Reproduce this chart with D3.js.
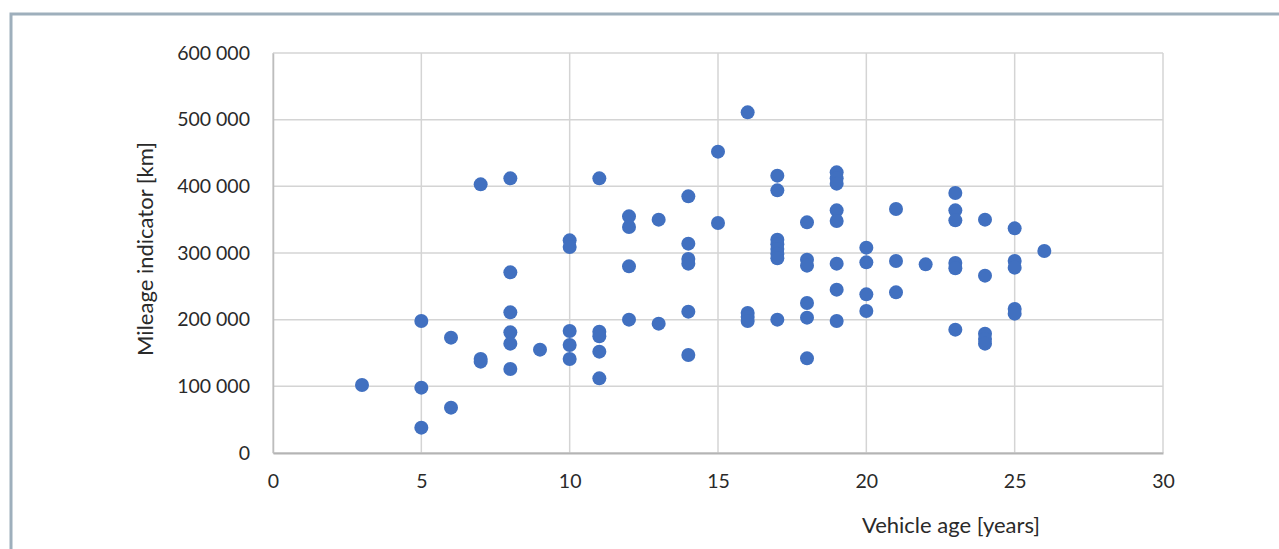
<!DOCTYPE html>
<html>
<head>
<meta charset="utf-8">
<title>Mileage vs vehicle age</title>
<script src="https://d3js.org/d3.v7.min.js"></script>
<style>
body { margin: 0; background: #fff; }
text { font-family: Lato, "Open Sans", sans-serif; fill: #2a2a2a; }
</style>
</head>
<body>
<script>
// vehicle age [years] and odometer reading [km], one entry per car
var ages = [
  3,
  5, 5, 5,
  6, 6,
  7, 7, 7,
  8, 8, 8, 8, 8, 8,
  9,
  10, 10, 10, 10, 10,
  11, 11, 11, 11, 11,
  12, 12, 12, 12,
  13, 13,
  14, 14, 14, 14, 14, 14,
  15, 15,
  16, 16, 16, 16,
  17, 17, 17, 17, 17, 17, 17, 17,
  18, 18, 18, 18, 18, 18,
  19, 19, 19, 19, 19, 19, 19, 19,
  20, 20, 20, 20,
  21, 21, 21,
  22,
  23, 23, 23, 23, 23, 23,
  24, 24, 24, 24, 24,
  25, 25, 25, 25, 25,
  26
];
var mileage = [
  102000,
  198000, 98000, 38000,
  173000, 68000,
  403000, 141000, 137000,
  412000, 271000, 211000, 181000, 164000, 126000,
  155000,
  319000, 309000, 183000, 162000, 141000,
  412000, 182000, 175000, 152000, 112000,
  355000, 339000, 280000, 200000,
  350000, 194000,
  385000, 314000, 291000, 284000, 212000, 147000,
  452000, 345000,
  511000, 210000, 204000, 198000,
  416000, 394000, 320000, 313000, 306000, 299000, 292000, 200000,
  346000, 290000, 281000, 225000, 203000, 142000,
  421000, 412000, 404000, 364000, 348000, 284000, 245000, 198000,
  308000, 286000, 238000, 213000,
  366000, 288000, 241000,
  283000,
  390000, 364000, 349000, 285000, 277000, 185000,
  350000, 266000, 179000, 171000, 164000,
  337000, 288000, 278000, 216000, 209000,
  303000
];
var xTicks = [0, 5, 10, 15, 20, 25, 30];
var yTicks = [0, 100000, 200000, 300000, 400000, 500000, 600000];

var W = 1279, H = 549;
var margin = { top: 53, left: 273 },
    width = 890,
    height = 400;

var fmt = d3.formatLocale({ decimal: ",", thousands: " ", grouping: [3], currency: ["", ""] }).format(",d");

var svg = d3.select("body").append("svg")
    .attr("width", W)
    .attr("height", H);

// outer frame of the figure
svg.append("rect")
    .attr("x", 11).attr("y", 14)
    .attr("width", W + 20).attr("height", H + 20)
    .attr("fill", "none")
    .attr("stroke", "#9eafbc")
    .attr("stroke-width", 3);

var g = svg.append("g")
    .attr("transform", "translate(" + margin.left + "," + margin.top + ")");

var x = d3.scaleLinear().domain([0, 30]).range([0, width]);
var y = d3.scaleLinear().domain([0, 600000]).range([height, 0]);

// grid
g.selectAll(".hgrid").data(yTicks).enter().append("line")
    .attr("class", "hgrid")
    .attr("x1", 0).attr("x2", width)
    .attr("y1", function(d) { return y(d); })
    .attr("y2", function(d) { return y(d); })
    .attr("stroke", "#d4d4d4").attr("stroke-width", 1.5);

g.selectAll(".vgrid").data(xTicks).enter().append("line")
    .attr("class", "vgrid")
    .attr("y1", 0).attr("y2", height)
    .attr("x1", function(d) { return x(d); })
    .attr("x2", function(d) { return x(d); })
    .attr("stroke", "#d4d4d4").attr("stroke-width", 1.5);

// axes
var xAxis = d3.axisBottom(x).tickValues(xTicks).tickSize(0).tickPadding(21);
var yAxis = d3.axisLeft(y).tickValues(yTicks).tickSize(0).tickPadding(23).tickFormat(fmt);

g.append("g")
    .attr("transform", "translate(0," + height + ")")
    .call(xAxis)
    .call(function(s) {
        s.select(".domain").attr("stroke", "#b4b4b4").attr("stroke-width", 2);
        s.selectAll("text").style("font-size", "19.5px");
    });

g.append("g")
    .call(yAxis)
    .call(function(s) {
        s.select(".domain").attr("stroke", "#bdbdbd").attr("stroke-width", 1.5);
        s.selectAll("text").style("font-size", "19.5px");
    });

// points
g.selectAll(".dot")
    .data(ages)
    .enter()
    .append("circle")
    .attr("class", "dot")
    .attr("cx", function(d) { return x(d); })
    .attr("cy", function(d, i) { return y(mileage[i]); })
    .attr("r", 7)
    .attr("fill", "#4170c0");

// axis titles
svg.append("text")
    .attr("x", 951).attr("y", 527)
    .attr("text-anchor", "middle")
    .attr("dominant-baseline", "middle")
    .style("font-size", "22px")
    .text("Vehicle age [years]");

svg.append("text")
    .attr("transform", "translate(147,249) rotate(-90)")
    .attr("text-anchor", "middle")
    .attr("dominant-baseline", "middle")
    .style("font-size", "22px")
    .text("Mileage indicator [km]");
</script>
</body>
</html>
